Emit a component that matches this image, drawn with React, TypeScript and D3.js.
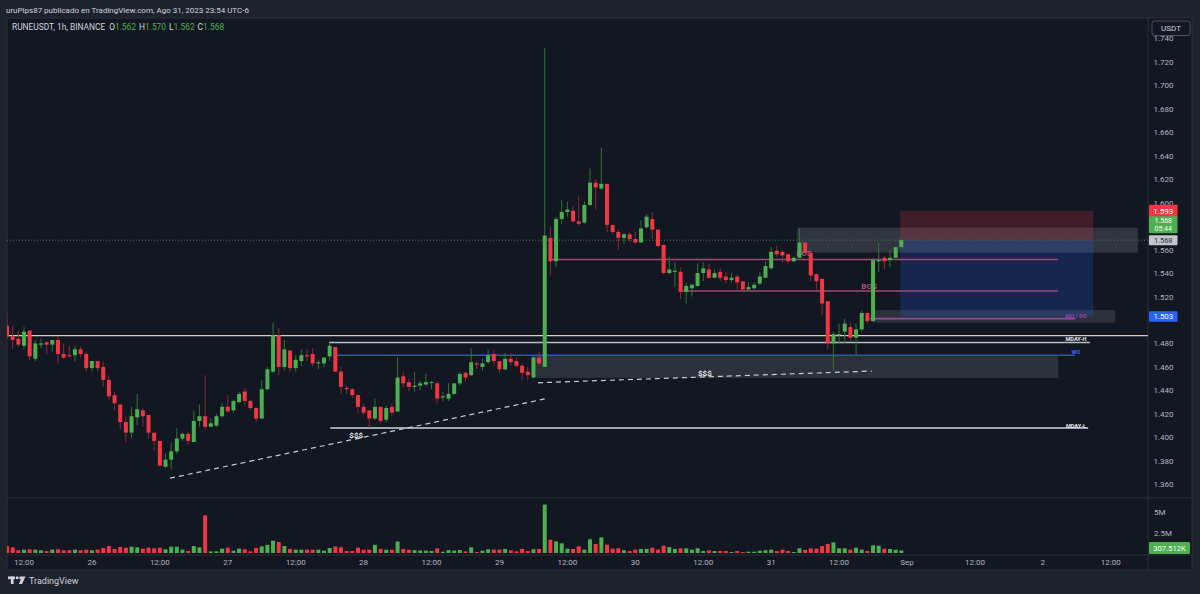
import React from 'react';
import * as d3 from 'd3';

// ---------------- DATA ----------------
const HOUR = 3600 * 1000;
const FIRST_CANDLE = Date.UTC(2023, 7, 25, 9, 0); // Aug 25 09:00 (chart time)
const AXIS_START = Date.UTC(2023, 7, 25, 12, 0);

const OPEN = [
  1.495, 1.486, 1.484, 1.478, 1.491, 1.467, 1.479, 1.481, 1.479, 1.483,
  1.471, 1.470, 1.470, 1.475, 1.471, 1.459, 1.465, 1.460, 1.449, 1.436,
  1.428, 1.413, 1.404, 1.417, 1.423, 1.419, 1.404, 1.397, 1.375, 1.381,
  1.388, 1.399, 1.403, 1.396, 1.414, 1.418, 1.409, 1.410, 1.418, 1.426,
  1.423, 1.430, 1.439, 1.431, 1.425, 1.416, 1.441, 1.456, 1.487, 1.460,
  1.474, 1.459, 1.465, 1.470, 1.471, 1.463, 1.463, 1.469, 1.477, 1.456,
  1.442, 1.441, 1.436, 1.426, 1.423, 1.416, 1.426, 1.415, 1.426, 1.422,
  1.452, 1.447, 1.443, 1.444, 1.445, 1.447, 1.446, 1.434, 1.433, 1.437,
  1.446, 1.455, 1.453, 1.463, 1.460, 1.464, 1.471, 1.465, 1.458, 1.467,
  1.465, 1.461, 1.456, 1.451, 1.468, 1.460, 1.570, 1.550, 1.586, 1.592,
  1.593, 1.584, 1.583, 1.598, 1.617, 1.612, 1.616, 1.581, 1.575, 1.570,
  1.573, 1.569, 1.566, 1.579, 1.586, 1.577, 1.564, 1.540, 1.541, 1.541,
  1.524, 1.527, 1.529, 1.540, 1.543, 1.536, 1.541, 1.537, 1.534, 1.537,
  1.533, 1.526, 1.527, 1.531, 1.536, 1.544, 1.559, 1.558, 1.556, 1.550,
  1.553, 1.566, 1.557, 1.539, 1.535, 1.516, 1.480, 1.4875, 1.490, 1.494,
  1.485, 1.492, 1.506, 1.499, 1.550, 1.553, 1.551, 1.553, 1.562
];
const HIGH = [
  1.506, 1.495, 1.491, 1.494, 1.491, 1.483, 1.484, 1.482, 1.483, 1.486,
  1.480, 1.478, 1.478, 1.477, 1.473, 1.465, 1.465, 1.465, 1.453, 1.439,
  1.428, 1.418, 1.426, 1.437, 1.425, 1.419, 1.404, 1.397, 1.386, 1.395,
  1.408, 1.404, 1.405, 1.423, 1.428, 1.453, 1.416, 1.420, 1.429, 1.436,
  1.432, 1.439, 1.442, 1.432, 1.426, 1.449, 1.460, 1.498, 1.493, 1.483,
  1.474, 1.470, 1.475, 1.475, 1.476, 1.466, 1.468, 1.480, 1.477, 1.460,
  1.444, 1.442, 1.436, 1.429, 1.423, 1.433, 1.426, 1.427, 1.429, 1.468,
  1.456, 1.450, 1.456, 1.448, 1.454, 1.448, 1.447, 1.439, 1.446, 1.446,
  1.456, 1.456, 1.476, 1.465, 1.467, 1.475, 1.475, 1.465, 1.472, 1.472,
  1.468, 1.463, 1.460, 1.470, 1.473, 1.732, 1.580, 1.588, 1.602, 1.601,
  1.597, 1.606, 1.601, 1.629, 1.620, 1.647, 1.616, 1.581, 1.577, 1.574,
  1.575, 1.575, 1.585, 1.590, 1.592, 1.577, 1.564, 1.554, 1.549, 1.545,
  1.532, 1.531, 1.548, 1.549, 1.548, 1.543, 1.544, 1.541, 1.540, 1.538,
  1.533, 1.532, 1.532, 1.541, 1.550, 1.562, 1.563, 1.560, 1.556, 1.554,
  1.578, 1.567, 1.557, 1.539, 1.535, 1.516, 1.490, 1.497, 1.501, 1.498,
  1.497, 1.508, 1.506, 1.553, 1.566, 1.555, 1.560, 1.562, 1.570
];
const LOW = [
  1.484, 1.475, 1.477, 1.475, 1.466, 1.465, 1.476, 1.471, 1.473, 1.463,
  1.467, 1.468, 1.465, 1.468, 1.456, 1.456, 1.456, 1.443, 1.432, 1.423,
  1.407, 1.396, 1.399, 1.410, 1.409, 1.399, 1.389, 1.375, 1.374, 1.373,
  1.386, 1.397, 1.394, 1.396, 1.409, 1.407, 1.409, 1.409, 1.417, 1.422,
  1.421, 1.429, 1.427, 1.424, 1.413, 1.416, 1.440, 1.455, 1.453, 1.457,
  1.456, 1.456, 1.461, 1.465, 1.460, 1.458, 1.460, 1.465, 1.456, 1.437,
  1.437, 1.434, 1.420, 1.419, 1.408, 1.415, 1.412, 1.413, 1.418, 1.422,
  1.442, 1.439, 1.439, 1.440, 1.444, 1.441, 1.429, 1.431, 1.431, 1.436,
  1.444, 1.447, 1.452, 1.458, 1.457, 1.463, 1.461, 1.455, 1.457, 1.461,
  1.460, 1.449, 1.449, 1.451, 1.461, 1.460, 1.538, 1.545, 1.582, 1.588,
  1.583, 1.580, 1.582, 1.597, 1.594, 1.611, 1.575, 1.573, 1.560, 1.565,
  1.566, 1.565, 1.566, 1.578, 1.569, 1.562, 1.539, 1.539, 1.528, 1.518,
  1.514, 1.520, 1.528, 1.533, 1.535, 1.536, 1.533, 1.531, 1.532, 1.526,
  1.526, 1.526, 1.526, 1.530, 1.536, 1.543, 1.554, 1.549, 1.548, 1.549,
  1.553, 1.556, 1.533, 1.526, 1.504, 1.475, 1.457, 1.480, 1.480, 1.482,
  1.470, 1.490, 1.497, 1.499, 1.541, 1.543, 1.545, 1.553, 1.562
];
const CLOSE = [
  1.486, 1.483, 1.479, 1.490, 1.469, 1.480, 1.480, 1.479, 1.483, 1.471,
  1.468, 1.469, 1.475, 1.471, 1.459, 1.465, 1.459, 1.449, 1.435, 1.429,
  1.413, 1.404, 1.418, 1.424, 1.418, 1.404, 1.397, 1.376, 1.381, 1.388,
  1.399, 1.403, 1.397, 1.414, 1.418, 1.409, 1.412, 1.418, 1.426, 1.422,
  1.431, 1.437, 1.431, 1.425, 1.416, 1.441, 1.458, 1.487, 1.460, 1.475,
  1.459, 1.466, 1.470, 1.469, 1.463, 1.464, 1.468, 1.478, 1.456, 1.443,
  1.441, 1.436, 1.426, 1.421, 1.416, 1.426, 1.414, 1.425, 1.421, 1.451,
  1.446, 1.443, 1.444, 1.446, 1.447, 1.4472, 1.433, 1.435, 1.437, 1.446,
  1.454, 1.451, 1.464, 1.462, 1.463, 1.470, 1.465, 1.458, 1.467, 1.464,
  1.461, 1.455, 1.453, 1.468, 1.463, 1.572, 1.550, 1.586, 1.592, 1.594,
  1.584, 1.582, 1.598, 1.617, 1.613, 1.616, 1.581, 1.575, 1.570, 1.573,
  1.569, 1.566, 1.578, 1.588, 1.577, 1.563, 1.540, 1.543, 1.542, 1.524,
  1.529, 1.530, 1.540, 1.544, 1.536, 1.540, 1.536, 1.534, 1.536, 1.532,
  1.526, 1.528, 1.530, 1.537, 1.546, 1.558, 1.556, 1.555, 1.550, 1.553,
  1.566, 1.557, 1.538, 1.533, 1.514, 1.480, 1.488, 1.488, 1.497, 1.485,
  1.492, 1.506, 1.499, 1.551, 1.551, 1.550, 1.553, 1.562, 1.568
];
const VOLUME_M = [
  0.85, 0.69, 0.33, 0.41, 0.45, 0.41, 0.33, 0.24, 0.41, 0.45,
  0.33, 0.33, 0.41, 0.33, 0.41, 0.33, 0.41, 0.61, 0.85, 0.49,
  0.73, 0.65, 0.77, 0.69, 0.53, 0.65, 0.57, 0.65, 0.45, 0.77,
  0.77, 0.41, 0.24, 0.85, 0.69, 4.6, 0.2, 0.2, 0.53, 0.65,
  0.28, 0.53, 0.45, 0.2, 0.61, 0.81, 1.0, 1.5, 1.34, 0.85,
  0.49, 0.41, 0.41, 0.41, 0.41, 0.41, 0.28, 0.61, 0.8, 0.7,
  0.25, 0.25, 0.65, 0.4, 0.4, 1.0, 0.5, 0.4, 0.4, 1.4,
  0.5, 0.4, 0.35, 0.3, 0.3, 0.25, 0.57, 0.15, 0.36, 0.3,
  0.36, 0.2, 0.69, 0.12, 0.28, 0.45, 0.41, 0.41, 0.49, 0.33,
  0.2, 0.49, 0.24, 0.45, 0.49, 5.9, 1.63, 1.42, 1.18, 0.53,
  0.49, 0.81, 0.41, 1.67, 1.1, 1.91, 1.02, 0.53, 0.57, 0.33,
  0.24, 0.41, 0.49, 0.49, 0.65, 0.41, 0.89, 0.73, 0.49, 0.57,
  0.57, 0.41, 0.57, 0.24, 0.33, 0.24, 0.24, 0.24, 0.12, 0.24,
  0.12, 0.16, 0.16, 0.28, 0.33, 0.41, 0.24, 0.41, 0.24, 0.12,
  0.57, 0.37, 0.57, 0.53, 0.85, 1.1, 1.3, 0.57, 0.57, 0.41,
  0.65, 0.41, 0.24, 0.93, 0.89, 0.53, 0.49, 0.41, 0.31
];

const PRICE_TICKS = [1.36, 1.38, 1.40, 1.42, 1.44, 1.46, 1.48, 1.50, 1.52, 1.54, 1.56, 1.58, 1.60, 1.62, 1.64, 1.66, 1.68, 1.70, 1.72, 1.74];
const TIME_TICK_LABELS = ['12:00', '26', '12:00', '27', '12:00', '28', '12:00', '29', '12:00', '30', '12:00', '31', '12:00', 'Sep', '12:00', '2', '12:00'];
const VOLUME_TICKS = [5, 2.5];
const VOLUME_TICK_LABELS = ['5M', '2.5M'];

// drawings (hours counted from Aug 25 12:00, prices in USDT)
const LEVEL_LINES = [
  { price: 1.4808, from: 53.9, to: 188.3, color: '#b8bbc4', label: 'MDAY-H', labelPrice: 1.4842, labelColor: '#e6e8ee' },
  { price: 1.4699, from: 55.3, to: 185.7, color: '#2f4fd6', label: 'WO', labelPrice: 1.4725, labelColor: '#3f63ff' },
  { price: 1.4080, from: 54.1, to: 188.0, color: '#d1d4dc', label: 'MDAY-L', labelPrice: 1.4095, labelColor: '#e6e8ee' },
  { price: 1.5515, from: 92.9, to: 182.7, color: '#9e4a70', label: '', labelPrice: 0, labelColor: '' },
  { price: 1.5247, from: 116.3, to: 182.7, color: '#9e4a70', label: '', labelPrice: 0, labelColor: '' },
  { price: 1.5012, from: 149.5, to: 185.7, color: '#8e4f95', label: 'MO / DO', labelPrice: 1.5034, labelColor: '#9c3fb5' },
];
const FULL_LINE_PRICE = 1.4867;
const ZONES = [
  { p0: 1.4701, p1: 1.4506, from: 89.9, to: 182.7, fill: 'rgba(120,123,134,0.25)' },
  { p0: 1.5787, p1: 1.5574, from: 136.6, to: 196.8, fill: 'rgba(120,123,134,0.3)' },
  { p0: 1.5085, p1: 1.4977, from: 149.8, to: 192.8, fill: 'rgba(120,123,134,0.25)' },
];
const TREND_LINES = [
  { h0: 25.8, p0: 1.3652, h1: 92.05, p1: 1.4328 },
  { h0: 90.8, p0: 1.4465, h1: 149.8, p1: 1.4565 },
];
const TEXT_MARKS = [
  { h: 58.7, price: 1.4020, text: '$$$', color: '#e6e8ee' },
  { h: 120.3, price: 1.4548, text: '$$$', color: '#e6e8ee' },
  { h: 149.3, price: 1.5290, text: 'BOS', color: '#b0557e' },
  { h: 137.8, price: 1.5570, text: 'BOS', color: '#b0557e' },
];
const POSITION = { entry: 1.568, stop: 1.593, target: 1.503, from: 154.8, to: 188.9 };
const LAST_PRICE = 1.568;
const LAST_VOLUME_LABEL = '307.512K';
const COUNTDOWN = '05:44';

// ---------------- CHART ----------------
const W = 1200;
const H = 594;
const PLOT_L = 7;
const PLOT_R = 1148;
const PLOT_T = 18;
const MAIN_B = 498;
const VOL_B = 555;
const FONT = "Roboto, 'Liberation Sans', Arial, sans-serif";

export default function App() {
  const x = d3.scaleUtc()
    .domain([new Date(AXIS_START), new Date(Date.UTC(2023, 8, 1, 0))])
    .range([24, 907]);
  const y = d3.scaleLinear().domain([1.36, 1.74]).range([484.3, 38.3]);
  const vy = d3.scaleLinear().domain([0, 5]).range([553, 512]);
  const hx = (h: number) => x(new Date(AXIS_START + h * HOUR));

  const candles = OPEN.map((o, i) => ({
    t: new Date(FIRST_CANDLE + i * HOUR),
    o, h: HIGH[i], l: LOW[i], c: CLOSE[i], v: VOLUME_M[i],
  }));

  const GREEN = '#4caf50';
  const RED = '#f23645';
  const GREEN_WICK = '#2f7438';
  const RED_WICK = '#8a2a36';
  const bw = 4;

  const timeTicks = TIME_TICK_LABELS.map((label, k) => ({ label, t: new Date(AXIS_START + k * 12 * HOUR) }));

  const axisLabelX = 1163.5;
  const boxX = 1149;
  const boxW = 28.5;

  // badges on the price scale: [top, bottom] in px
  const badges = {
    stop: [y(POSITION.stop) - 6.2, y(POSITION.stop) + 6.2],
    last: [y(LAST_PRICE) - 24, y(LAST_PRICE) - 7],
    lastGrey: [y(LAST_PRICE) - 4.8, y(LAST_PRICE) + 5.2],
    target: [y(POSITION.target) - 5.3, y(POSITION.target) + 5.3],
  };
  // tick labels whose centre sits under a badge are hidden, as on the reference
  const visibleTicks = PRICE_TICKS.filter(p => {
    const yy = y(p);
    return Object.values(badges).every(([a, b]) => yy < a - 1 || yy > b + 1);
  });

  const trendLine = d3.line<[number, number]>();

  return (
    <div style={{ position: 'fixed', left: 0, top: 0, width: W, height: H }}>
      <svg width={W} height={H} style={{ display: 'block', fontFamily: FONT }}>
        <defs>
          <clipPath id="plotClip">
            <rect x={PLOT_L} y={PLOT_T} width={PLOT_R - PLOT_L} height={MAIN_B - PLOT_T} />
          </clipPath>
          <clipPath id="volClip">
            <rect x={PLOT_L} y={MAIN_B} width={PLOT_R - PLOT_L} height={VOL_B - MAIN_B} />
          </clipPath>
        </defs>
        <rect x={0} y={0} width={W} height={H} fill="#1e222d" />
        <rect x={PLOT_L} y={PLOT_T} width={1192 - PLOT_L} height={570 - PLOT_T} fill="#131722" stroke="#2a2e39" strokeWidth={1} />

        {/* header */}
        <text x={6} y={12.5} fontSize={8} fill="#d1d4dc">uruPips87 publicado en TradingView.com, Ago 31, 2023 23:54 UTC-6</text>

        {/* pane separators */}
        <line x1={PLOT_L} x2={1192} y1={MAIN_B} y2={MAIN_B} stroke="#2a2e39" />
        <line x1={PLOT_L} x2={1192} y1={VOL_B} y2={VOL_B} stroke="#2a2e39" />
        <line x1={PLOT_R} x2={PLOT_R} y1={PLOT_T} y2={570} stroke="#2a2e39" />

        <g clipPath="url(#plotClip)">
          {ZONES.map((z, k) => (
            <rect key={'z' + k} x={hx(z.from)} y={y(z.p0)} width={hx(z.to) - hx(z.from)} height={y(z.p1) - y(z.p0)} fill={z.fill} />
          ))}
          <rect x={hx(POSITION.from)} y={y(POSITION.stop)} width={hx(POSITION.to) - hx(POSITION.from)} height={y(POSITION.entry) - y(POSITION.stop)} fill="rgba(242,54,69,0.2)" />
          <rect x={hx(POSITION.from)} y={y(POSITION.entry)} width={hx(POSITION.to) - hx(POSITION.from)} height={y(POSITION.target) - y(POSITION.entry)} fill="rgba(41,98,255,0.2)" />

          <line x1={PLOT_L} x2={PLOT_R} y1={y(FULL_LINE_PRICE)} y2={y(FULL_LINE_PRICE)} stroke="#d6d0b4" strokeWidth={1.3} />
          {LEVEL_LINES.map((l, k) => (
            <line key={'l' + k} x1={hx(l.from)} x2={hx(l.to)} y1={y(l.price)} y2={y(l.price)} stroke={l.color} strokeWidth={1.6} />
          ))}
          {LEVEL_LINES.filter(l => l.label).map((l, k) => (
            <text key={'lt' + k} x={1076} y={y(l.labelPrice) + 2} fontSize={5.6} fontWeight="bold" fill={l.labelColor} textAnchor="middle">{l.label}</text>
          ))}

          {TREND_LINES.map((t, k) => (
            <path key={'t' + k} d={trendLine([[hx(t.h0), y(t.p0)], [hx(t.h1), y(t.p1)]]) || ''} stroke="#c9ccd4" strokeWidth={1.2} strokeDasharray="5 4" fill="none" />
          ))}
          {TEXT_MARKS.map((m, k) => (
            <text key={'m' + k} x={hx(m.h)} y={y(m.price) + 3} fontSize={8} fontWeight="bold" fill={m.color} textAnchor="middle">{m.text}</text>
          ))}

          <line x1={PLOT_L} x2={PLOT_R} y1={y(LAST_PRICE)} y2={y(LAST_PRICE)} stroke="#4c7a55" strokeWidth={1} strokeDasharray="1 2" />

          {candles.map((d, i) => {
            const up = d.c >= d.o;
            const cx = x(d.t);
            const top = y(Math.max(d.o, d.c));
            const bot = y(Math.min(d.o, d.c));
            return (
              <g key={'c' + i}>
                <line x1={cx} x2={cx} y1={y(d.h)} y2={y(d.l)} stroke={up ? GREEN_WICK : RED_WICK} strokeWidth={1} />
                <rect x={cx - bw / 2} y={top} width={bw} height={Math.max(1, bot - top)} fill={up ? GREEN : RED} />
              </g>
            );
          })}
        </g>

        {/* symbol legend */}
        <text x={12} y={30.2} fontSize={8.4} fill="#d1d4dc">
          <tspan>RUNEUSDT, 1h, BINANCE</tspan>
          <tspan dx={4}>O</tspan><tspan fill={GREEN}>1.562</tspan>
          <tspan dx={3}>H</tspan><tspan fill={GREEN}>1.570</tspan>
          <tspan dx={3}>L</tspan><tspan fill={GREEN}>1.562</tspan>
          <tspan dx={3}>C</tspan><tspan fill={GREEN}>1.568</tspan>
        </text>

        {/* volume */}
        <g clipPath="url(#volClip)">
          {candles.map((d, i) => {
            const cx = x(d.t);
            return <rect key={'v' + i} x={cx - bw / 2} y={vy(d.v)} width={bw} height={vy(0) - vy(d.v)} fill={d.c >= d.o ? GREEN : RED} />;
          })}
        </g>

        {/* price axis */}
        {visibleTicks.map((p, k) => (
          <text key={'p' + k} x={axisLabelX} y={y(p) + 3} fontSize={8} fill="#b2b5be" textAnchor="middle">{p.toFixed(3)}</text>
        ))}
        {VOLUME_TICKS.map((v, k) => (
          <text key={'vt' + k} x={1154} y={vy(v) + 3} fontSize={8} fill="#b2b5be">{VOLUME_TICK_LABELS[k]}</text>
        ))}

        <rect x={1152} y={21} width={38} height={14.5} rx={2.5} fill="#131722" stroke="#50535e" strokeWidth={1} />
        <text x={1171} y={31.3} fontSize={8} fill="#d1d4dc" textAnchor="middle">USDT</text>

        {/* price badges */}
        <rect x={boxX} y={badges.stop[0]} width={boxW} height={badges.stop[1] - badges.stop[0]} fill={RED} rx={1} />
        <text x={boxX + boxW / 2} y={y(POSITION.stop) + 3} fontSize={8} fill="#ffffff" textAnchor="middle">{POSITION.stop.toFixed(3)}</text>
        <rect x={boxX} y={badges.last[0]} width={boxW} height={badges.last[1] - badges.last[0]} fill={GREEN} rx={1} />
        <text x={boxX + boxW / 2} y={badges.last[0] + 7.2} fontSize={7} fill="#ffffff" textAnchor="middle">{LAST_PRICE.toFixed(3)}</text>
        <text x={boxX + boxW / 2} y={badges.last[0] + 15.3} fontSize={7} fill="#ffffff" textAnchor="middle">{COUNTDOWN}</text>
        <rect x={boxX} y={badges.lastGrey[0]} width={boxW} height={badges.lastGrey[1] - badges.lastGrey[0]} fill="#c3c5cb" rx={1} />
        <text x={boxX + boxW / 2} y={y(LAST_PRICE) + 2.8} fontSize={7.4} fill="#2a2e39" textAnchor="middle">{LAST_PRICE.toFixed(3)}</text>
        <rect x={boxX} y={badges.target[0]} width={boxW} height={badges.target[1] - badges.target[0]} fill="#2962ff" rx={1} />
        <text x={boxX + boxW / 2} y={y(POSITION.target) + 3} fontSize={7.8} fill="#ffffff" textAnchor="middle">{POSITION.target.toFixed(3)}</text>
        <rect x={boxX} y={542} width={41} height={12} fill={GREEN} rx={1} />
        <text x={boxX + 20.5} y={551} fontSize={7.6} fill="#ffffff" textAnchor="middle">{LAST_VOLUME_LABEL}</text>

        {/* time axis */}
        {timeTicks.map((tk, k) => (
          <text key={'tt' + k} x={x(tk.t)} y={565} fontSize={8} fill="#b2b5be" textAnchor="middle">{tk.label}</text>
        ))}

        {/* TradingView logo */}
        <g fill="#d1d4dc">
          <rect x={8} y={576.5} width={7} height={2.6} />
          <rect x={10.8} y={576.5} width={2.8} height={7.5} />
          <circle cx={17.2} cy={577.8} r={1.5} />
          <polygon points="19.5,576.5 25.5,576.5 22,584 18.8,584 21,579.2 19.5,579.2" />
        </g>
        <text x={29} y={583.5} fontSize={9} fill="#d1d4dc">TradingView</text>
      </svg>
    </div>
  );
}
